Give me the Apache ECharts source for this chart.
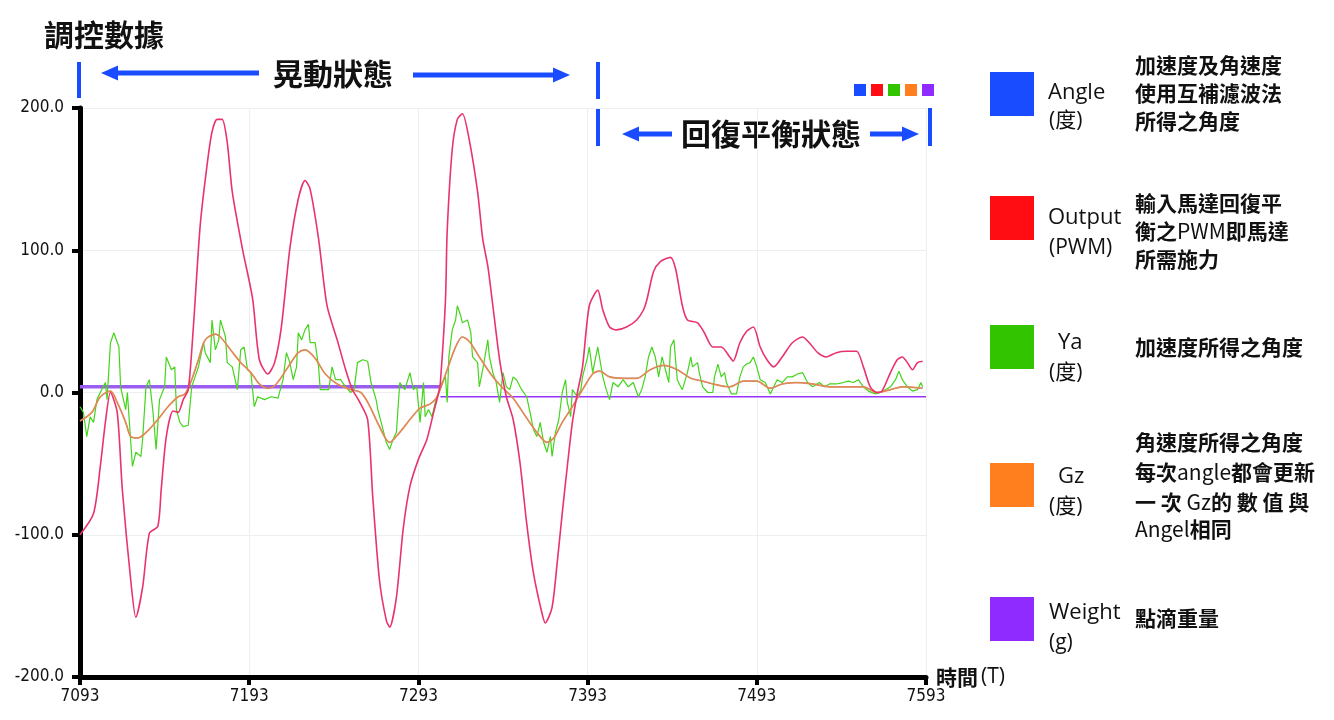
<!DOCTYPE html>
<html>
<head>
<meta charset="utf-8">
<script src="https://cdn.jsdelivr.net/npm/echarts@6/dist/echarts.min.js"></script>
<style>
html,body{margin:0;padding:0;background:#fff;}
#chart{width:1334px;height:720px;}
</style>
</head>
<body>
<div id="chart"></div>
<script>
// ---- data: [time T, value] ----
const outputData = [[7093,-100],[7101,-85],[7105,-52],[7108,-21],[7111,0],[7115,-14],[7118,-68],[7123,-132],[7126,-158],[7130,-137],[7134,-99],[7139,-94],[7141,-68],[7144,-31],[7148,-13],[7151,-14],[7154,-5],[7157,2],[7160,46],[7164,117],[7168,159],[7171,183],[7174,192],[7177,192],[7180,176],[7183,141],[7189,101],[7195,66],[7199,23],[7204,13],[7208,21],[7212,46],[7217,101],[7222,136],[7226,149],[7229,143],[7234,108],[7239,61],[7245,37],[7250,16],[7254,2],[7258,-6],[7263,-19],[7266,-73],[7270,-132],[7274,-160],[7276,-165],[7280,-144],[7284,-96],[7288,-66],[7293,-47],[7298,-33],[7302,-14],[7305,0],[7306,7],[7309,65],[7310,113],[7313,171],[7316,192],[7319,196],[7323,178],[7328,141],[7331,108],[7334,89],[7337,61],[7341,23],[7345,-3],[7349,-19],[7353,-49],[7357,-92],[7361,-127],[7366,-155],[7368,-162],[7372,-151],[7375,-120],[7378,-85],[7381,-52],[7384,-21],[7387,0],[7390,18],[7394,61],[7399,72],[7402,58],[7406,46],[7410,44],[7416,46],[7422,51],[7426,58],[7428,65],[7432,85],[7436,92],[7442,95],[7445,87],[7449,61],[7452,51],[7458,49],[7462,42],[7467,32],[7472,32],[7477,25],[7479,22],[7483,35],[7487,43],[7491,46],[7495,32],[7499,23],[7503,18],[7508,25],[7514,35],[7520,39],[7524,35],[7529,28],[7534,25],[7540,28],[7546,29],[7552,29],[7556,18],[7560,4],[7564,0],[7567,1],[7572,14],[7576,23],[7579,25],[7582,21],[7585,16],[7588,21],[7591,22]];

const gzData = [[7093,-20],[7100,-14],[7105,-3],[7111,1],[7115,-7],[7120,-21],[7123,-31],[7127,-32],[7133,-27],[7139,-19],[7145,-10],[7151,-3],[7155,-1],[7159,9],[7163,23],[7167,37],[7173,41],[7176,39],[7182,30],[7188,21],[7194,14],[7199,6],[7204,3],[7209,6],[7216,18],[7222,28],[7226,30],[7232,24],[7238,13],[7245,6],[7253,2],[7259,0],[7264,-9],[7270,-24],[7276,-35],[7282,-28],[7288,-19],[7294,-11],[7300,-8],[7304,-3],[7310,16],[7315,32],[7319,39],[7323,36],[7329,25],[7337,11],[7343,3],[7349,-4],[7357,-18],[7363,-28],[7369,-35],[7373,-32],[7378,-21],[7384,-10],[7390,2],[7396,13],[7400,15],[7406,11],[7414,10],[7422,10],[7430,16],[7438,19],[7446,16],[7454,10],[7461,8],[7467,6],[7477,4],[7485,8],[7493,8],[7501,3],[7508,6],[7517,7],[7526,6],[7536,4],[7546,4],[7556,4],[7564,0],[7572,2],[7579,4],[7591,3]];

const angleData = gzData; // legend: Gz is updated with each angle, equal to Angle

const yaData = [[7093,-10],[7095,-14],[7097,-31],[7099,-17],[7101,-21],[7103,-5],[7105,0],[7108,7],[7109,-5],[7111,35],[7113,42],[7114,43],[7116,32],[7117,4],[7120,-12],[7121,0],[7123,-35],[7124,-52],[7126,-42],[7129,-45],[7130,-33],[7132,4],[7134,9],[7136,-12],[7138,-40],[7140,-5],[7143,4],[7144,25],[7147,16],[7149,18],[7150,-12],[7152,-21],[7154,-24],[7157,-23],[7159,4],[7161,11],[7163,18],[7166,35],[7167,28],[7170,21],[7171,51],[7173,30],[7175,37],[7176,51],[7179,39],[7180,21],[7183,18],[7186,2],[7188,30],[7190,32],[7192,16],[7194,14],[7196,-10],[7198,-3],[7202,-5],[7206,-3],[7210,-4],[7213,9],[7215,28],[7217,21],[7219,9],[7221,18],[7222,42],[7224,37],[7226,44],[7228,48],[7229,35],[7232,35],[7234,18],[7235,2],[7240,2],[7242,18],[7244,9],[7247,9],[7250,4],[7253,0],[7255,2],[7257,21],[7260,23],[7263,22],[7265,7],[7268,-5],[7269,-12],[7271,-21],[7274,-35],[7276,-40],[7278,-33],[7280,-28],[7282,7],[7285,2],[7288,14],[7290,2],[7292,4],[7294,-21],[7296,7],[7297,-17],[7299,-12],[7301,-17],[7303,-7],[7305,0],[7307,7],[7309,11],[7310,-7],[7311,25],[7313,44],[7315,51],[7316,61],[7318,54],[7319,49],[7322,51],[7324,42],[7325,25],[7328,21],[7329,4],[7331,16],[7334,37],[7335,25],[7337,14],[7339,7],[7341,-7],[7343,14],[7345,4],[7347,2],[7349,11],[7351,9],[7354,2],[7357,-3],[7359,-14],[7361,-26],[7363,-31],[7365,-21],[7367,-35],[7369,-42],[7371,-31],[7372,-45],[7374,-28],[7376,-19],[7378,0],[7380,9],[7381,-7],[7383,-17],[7384,2],[7387,-3],[7389,2],[7390,11],[7393,25],[7394,32],[7396,14],[7399,32],[7400,32],[7402,11],[7404,2],[7406,-5],[7408,7],[7411,4],[7414,9],[7417,4],[7420,7],[7423,-3],[7425,2],[7427,11],[7429,25],[7431,32],[7433,25],[7435,11],[7437,25],[7439,16],[7441,7],[7442,32],[7444,37],[7446,9],[7448,4],[7449,2],[7452,14],[7454,25],[7455,18],[7458,21],[7459,14],[7461,4],[7464,0],[7467,0],[7468,11],[7470,20],[7472,11],[7474,14],[7475,7],[7478,-1],[7481,-1],[7483,11],[7485,18],[7487,20],[7489,21],[7491,25],[7493,18],[7495,9],[7498,7],[7501,-1],[7505,9],[7508,7],[7511,11],[7514,11],[7517,13],[7520,14],[7523,7],[7526,4],[7530,7],[7533,4],[7536,6],[7540,6],[7544,7],[7547,8],[7550,7],[7553,9],[7556,4],[7559,1],[7563,-1],[7566,0],[7569,2],[7572,4],[7575,9],[7577,15],[7579,9],[7582,4],[7585,1],[7588,2],[7590,7],[7591,4]];

const weightData = [[7093,4],[7306,4],[7306,-3],[7593,-3]];

const seriesNames = ['Angle','Output','Ya','Gz','Weight'];
const seriesColors = ['#1a4cff','#ff0d12','#33c400','#ff7f1f','#8f2bff'];

const xTickLabels = ['7093','7193','7293','7393','7493','7593'];
const yTickLabels = ['-200.0','-100.0','0.0','100.0','200.0'];

const titleText = '調控數據';
const phase1Text = '晃動狀態';
const phase2Text = '回復平衡狀態';
const xAxisName = ['時間', '(T)'];

const legendRows = [
  {name:'Angle', unit:'(度)', desc:['加速度及角速度','使用互補濾波法','所得之角度']},
  {name:'Output', unit:'(PWM)', desc:['輸入馬達回復平','衡之PWM即馬達','所需施力']},
  {name:'Ya', unit:'(度)', desc:['加速度所得之角度']},
  {name:'Gz', unit:'(度)', desc:['角速度所得之角度','每次angle都會更新','一 次 Gz的 數 值 與','Angel相同']},
  {name:'Weight', unit:'(g)', desc:['點滴重量']}
];

// ---- layout / styling ----
const CJK = '"Noto Sans CJK TC","Noto Sans CJK SC",sans-serif';
const LATIN = '"Open Sans","Noto Sans",sans-serif';
const NARROW = '"Liberation Sans Narrow","DejaVu Sans Condensed","Liberation Sans",sans-serif';
const BLUE = '#1a4cff';

const chart = echarts.init(document.getElementById('chart'), null, {renderer:'canvas'});

function arrow(tipX, tailX, y) {
  const dir = tipX < tailX ? -1 : 1;
  const headLen = 17, half = 7.5, th = 5;
  const baseX = tipX - dir * headLen;
  const x0 = Math.min(baseX, tailX), x1 = Math.max(baseX, tailX);
  return [
    {type:'rect', shape:{x:x0, y:y - th/2, width:x1 - x0 + 1, height:th}, style:{fill:BLUE}},
    {type:'polygon', shape:{points:[[tipX,y],[baseX,y-half],[baseX,y+half]]}, style:{fill:BLUE}}
  ];
}
function vbar(x, y1, y2) {
  return {type:'rect', shape:{x:x-2, y:y1, width:4, height:y2-y1}, style:{fill:BLUE}};
}
function txt(t, x, y, size, opts) {
  opts = opts || {};
  return {type:'text', style:Object.assign({text:t, x:x, y:y, fontSize:size, fontFamily:CJK,
    fontWeight:'normal', fill:'#111', textAlign:'left', textVerticalAlign:'middle'}, opts)};
}
// wrap latin runs so they render at regular weight
function richDesc(s) {
  return s.split(/([A-Za-z]+)/).filter(p => p !== '')
    .map(p => /^[A-Za-z]+$/.test(p) ? '{l|' + p + '}' : '{c|' + p + '}').join('');
}

const graphics = [];
// phase annotation
graphics.push(vbar(79, 62, 98));
graphics.push(...arrow(101, 258, 73));
graphics.push(txt(phase1Text, 333, 74, 30, {textAlign:'center', fontWeight:'bold'}));
graphics.push(...arrow(570, 413, 75));
graphics.push(vbar(598, 62, 99));
graphics.push(vbar(598, 108, 146));
graphics.push(...arrow(622, 671, 134));
graphics.push(txt(phase2Text, 771, 134, 30, {textAlign:'center', fontWeight:'bold'}));
graphics.push(...arrow(919, 870, 134));
graphics.push(vbar(930, 108, 146));

// right-hand descriptive legend
const rowLayout = [
  {sq:72, nameX:1048, nameY:93, unitY:121, descY:[65,93,121]},
  {sq:196, nameX:1048, nameY:218, unitY:248, descY:[203,231,259]},
  {sq:325, nameX:1058, nameY:343, unitY:373, descY:[347]},
  {sq:463, nameX:1058, nameY:477, unitY:507, descY:[442,472,502,529]},
  {sq:597, nameX:1049, nameY:613, unitY:643, descY:[618]}
];
legendRows.forEach((r, i) => {
  const L = rowLayout[i];
  graphics.push({type:'rect', shape:{x:990, y:L.sq, width:44, height:44}, style:{fill:seriesColors[i]}});
  graphics.push(txt(r.name, L.nameX, L.nameY, 22, {fontFamily:LATIN}));
  graphics.push(txt(r.unit, 1049, L.unitY, 21, {fontFamily:LATIN + ',' + CJK}));
  r.desc.forEach((d, k) => graphics.push(txt(richDesc(d), 1135, L.descY[k], 21, {
    rich:{c:{fontSize:21, fontFamily:CJK, fontWeight:'bold', fill:'#111', lineHeight:28},
          l:{fontSize:21, fontFamily:CJK, fontWeight:'normal', fill:'#111', lineHeight:28}}})));
});

const lineColors = {Angle:'#1a4cff', Output:'#e8336e', Ya:'#44d41c', Gz:'#e38a52'};

const option = {
  animation:false,
  backgroundColor:'#fff',
  title:{text:titleText, left:44, top:20, padding:0,
    textStyle:{fontSize:30, fontWeight:'bold', fontFamily:CJK, color:'#111'}},
  legend:{data:seriesNames, left:854, top:84, icon:'rect', itemWidth:12, itemHeight:12, itemGap:5,
    formatter:() => '', selectedMode:false, padding:0, textStyle:{fontSize:1}},
  grid:{left:80, right:408, top:108, bottom:43},
  xAxis:{type:'value', min:7093, max:7593, interval:100,
    name:'{a|' + xAxisName[0] + '}{b|' + xAxisName[1] + '}', nameLocation:'end', nameGap:10,
    nameTextStyle:{rich:{a:{fontSize:21, fontFamily:CJK, fontWeight:'bold', color:'#111'},
      b:{fontSize:21, fontFamily:LATIN, color:'#111', padding:[0,0,0,3]}}},
    axisLine:{show:true, onZero:false, lineStyle:{color:'#000', width:5}},
    axisTick:{show:true, length:8, lineStyle:{color:'#000', width:4}},
    axisLabel:{margin:11, fontSize:17, fontFamily:NARROW, color:'#111',
      formatter:(v) => xTickLabels[Math.round((v - 7093) / 100)] || ''},
    splitLine:{show:true, lineStyle:{color:'#eceff2', width:1}}},
  yAxis:{type:'value', min:-200, max:200, interval:100,
    axisLine:{show:true, lineStyle:{color:'#000', width:5}},
    axisTick:{show:true, length:8, lineStyle:{color:'#000', width:4}},
    axisLabel:{margin:16, fontSize:17, fontFamily:NARROW, color:'#111',
      formatter:(v) => yTickLabels[Math.round((v + 200) / 100)] || ''},
    splitLine:{show:true, lineStyle:{color:'#eceff2', width:1}}},
  graphic:graphics,
  series:[
    {name:'Weight', type:'line', data:weightData.slice(0,2), color:seriesColors[4], showSymbol:false, z:1,
      lineStyle:{color:'#9b5cf0', width:3.5}},
    {name:'Weight', type:'line', data:weightData.slice(2), color:seriesColors[4], showSymbol:false, z:1,
      lineStyle:{color:'#9933ff', width:1.5}},
    {name:'Ya', type:'line', data:yaData, color:seriesColors[2], showSymbol:false, z:2,
      lineStyle:{color:lineColors.Ya, width:1.2}},
    {name:'Angle', type:'line', data:angleData, color:seriesColors[0], showSymbol:false, z:3, smooth:0.3,
      lineStyle:{color:lineColors.Angle, width:0.8}},
    {name:'Gz', type:'line', data:gzData, color:seriesColors[3], showSymbol:false, z:4, smooth:0.3,
      lineStyle:{color:lineColors.Gz, width:1.7}},
    {name:'Output', type:'line', data:outputData, color:seriesColors[1], showSymbol:false, z:5, smooth:0.25,
      lineStyle:{color:lineColors.Output, width:1.6}}
  ]
};
chart.setOption(option);
</script>
</body>
</html>
